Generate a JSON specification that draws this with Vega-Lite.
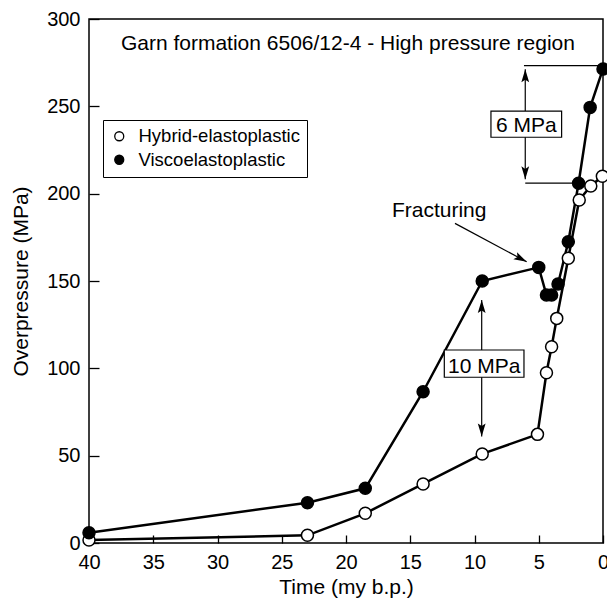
{
  "$schema": "https://vega.github.io/schema/vega-lite/v6.json",
  "width": 514,
  "height": 524,
  "autosize": {"type": "none"},
  "padding": {"left": 89, "top": 19, "right": 4, "bottom": 58},
  "config": {
    "font": "Liberation Sans",
    "view": {"stroke": "black", "strokeWidth": 1.5},
    "axis": {"domain": false, "grid": false, "tickColor": "black", "tickWidth": 1.3, "labelColor": "black", "titleColor": "black", "titleFontWeight": "normal", "labelFontSize": 20, "titleFontSize": 21, "labelFlush": false}
  },
  "datasets": {
    "series": [
      {"t": 40, "p": 1.7, "model": "Hybrid-elastoplastic"},
      {"t": 23, "p": 4.4, "model": "Hybrid-elastoplastic"},
      {"t": 18.5, "p": 17, "model": "Hybrid-elastoplastic"},
      {"t": 14, "p": 33.8, "model": "Hybrid-elastoplastic"},
      {"t": 9.4, "p": 51, "model": "Hybrid-elastoplastic"},
      {"t": 5.1, "p": 62.2, "model": "Hybrid-elastoplastic"},
      {"t": 4.4, "p": 97.5, "model": "Hybrid-elastoplastic"},
      {"t": 4, "p": 112.4, "model": "Hybrid-elastoplastic"},
      {"t": 3.6, "p": 128.6, "model": "Hybrid-elastoplastic"},
      {"t": 2.7, "p": 163, "model": "Hybrid-elastoplastic"},
      {"t": 1.85, "p": 196.4, "model": "Hybrid-elastoplastic"},
      {"t": 0.95, "p": 204.4, "model": "Hybrid-elastoplastic"},
      {"t": 0.05, "p": 210, "model": "Hybrid-elastoplastic"},
      {"t": 40, "p": 5.9, "model": "Viscoelastoplastic"},
      {"t": 23, "p": 23.1, "model": "Viscoelastoplastic"},
      {"t": 18.5, "p": 31.3, "model": "Viscoelastoplastic"},
      {"t": 14, "p": 86.6, "model": "Viscoelastoplastic"},
      {"t": 9.4, "p": 150, "model": "Viscoelastoplastic"},
      {"t": 5, "p": 157.8, "model": "Viscoelastoplastic"},
      {"t": 4.4, "p": 142, "model": "Viscoelastoplastic"},
      {"t": 4, "p": 142, "model": "Viscoelastoplastic"},
      {"t": 3.5, "p": 148.3, "model": "Viscoelastoplastic"},
      {"t": 2.7, "p": 172.5, "model": "Viscoelastoplastic"},
      {"t": 1.9, "p": 206, "model": "Viscoelastoplastic"},
      {"t": 1, "p": 249.4, "model": "Viscoelastoplastic"},
      {"t": 0, "p": 271.4, "model": "Viscoelastoplastic"}
    ],
    "hlines": [
      {"t": 6.15, "t2": 0, "p": 273.3},
      {"t": 6.05, "t2": 1.92, "p": 206}
    ],
    "vshafts": [
      {"t": 6.05, "p": 208.2, "p2": 271.2},
      {"t": 9.44, "p": 61, "p2": 139.1}
    ],
    "fracline": [
      {"t": 11.52, "p": 183, "t2": 5.94, "p2": 161}
    ],
    "boxes": [
      {"t": 8.72, "t2": 3.22, "p": 247.3, "p2": 232.3},
      {"t": 12.35, "t2": 6.15, "p": 110.5, "p2": 94.9}
    ],
    "boxlabels": [
      {"t": 5.97, "p": 235.4, "label": "6 MPa"},
      {"t": 9.25, "p": 97.5, "label": "10 MPa"}
    ],
    "fractext": [
      {"t": 12.75, "p": 186.9, "label": "Fracturing"}
    ],
    "title": [
      {"t": 19.85, "p": 282.2, "label": "Garn formation 6506/12-4 - High pressure region"}
    ],
    "uptips": [
      {"t": 6.05, "p": 271.2},
      {"t": 9.44, "p": 139.1}
    ],
    "downtips": [
      {"t": 6.05, "p": 208.2},
      {"t": 9.44, "p": 61}
    ],
    "fractip": [
      {"t": 5.94, "p": 161}
    ]
  },
  "layer": [
    {
      "data": {"name": "series"},
      "mark": {"type": "line", "color": "black", "strokeWidth": 2.5},
      "encoding": {
        "x": {"field": "t", "type": "quantitative", "scale": {"domain": [0, 40], "reverse": true, "nice": false}, "axis": {"title": "Time (my b.p.)", "values": [0, 5, 10, 15, 20, 25, 30, 35, 40], "tickSize": -8, "labelPadding": 17, "titleY": 50, "titleBaseline": "alphabetic"}},
        "y": {"field": "p", "type": "quantitative", "scale": {"domain": [0, 300], "nice": false}, "axis": {"title": "Overpressure (MPa)", "values": [0, 50, 100, 150, 200, 250, 300], "tickSize": -10, "labelPadding": 19, "titleX": -62, "titleY": 262, "titleAngle": 270, "titleBaseline": "alphabetic", "titleAlign": "center"}},
        "detail": {"field": "model"}
      }
    },
    {
      "data": {"name": "series"},
      "mark": {"type": "point", "filled": false, "stroke": "black", "strokeWidth": 1.5, "size": 144, "opacity": 1, "shape": "circle"},
      "encoding": {
        "x": {"field": "t", "type": "quantitative"},
        "y": {"field": "p", "type": "quantitative"},
        "fill": {"field": "model", "type": "nominal", "scale": {"domain": ["Hybrid-elastoplastic", "Viscoelastoplastic"], "range": ["white", "black"]},
          "legend": {"title": null, "orient": "none", "legendX": 14, "legendY": 101, "strokeColor": "black", "fillColor": "white", "padding": 7, "symbolType": "circle", "symbolSize": 81, "symbolStrokeColor": "black", "symbolStrokeWidth": 1.3, "labelFontSize": 18.5, "labelColor": "black", "labelLimit": 400, "rowPadding": 4.5, "labelOffset": 10}}
      }
    },
    {
      "data": {"name": "hlines"},
      "mark": {"type": "rule", "color": "black", "strokeWidth": 1.2},
      "encoding": {
        "x": {"field": "t", "type": "quantitative"},
        "x2": {"field": "t2"},
        "y": {"field": "p", "type": "quantitative"}
      }
    },
    {
      "data": {"name": "vshafts"},
      "mark": {"type": "rule", "color": "black", "strokeWidth": 1.2},
      "encoding": {
        "x": {"field": "t", "type": "quantitative"},
        "y": {"field": "p", "type": "quantitative"},
        "y2": {"field": "p2"}
      }
    },
    {
      "data": {"name": "fracline"},
      "mark": {"type": "rule", "color": "black", "strokeWidth": 1.2},
      "encoding": {
        "x": {"field": "t", "type": "quantitative"},
        "y": {"field": "p", "type": "quantitative"},
        "x2": {"field": "t2"},
        "y2": {"field": "p2"}
      }
    },
    {
      "data": {"name": "boxes"},
      "mark": {"type": "rect", "fill": "white", "stroke": "black", "strokeWidth": 1.2},
      "encoding": {
        "x": {"field": "t", "type": "quantitative"},
        "x2": {"field": "t2"},
        "y": {"field": "p", "type": "quantitative"},
        "y2": {"field": "p2"}
      }
    },
    {
      "data": {"name": "boxlabels"},
      "mark": {"type": "text", "fontSize": 21, "color": "black", "align": "center", "baseline": "alphabetic"},
      "encoding": {
        "x": {"field": "t", "type": "quantitative"},
        "y": {"field": "p", "type": "quantitative"},
        "text": {"field": "label"}
      }
    },
    {
      "data": {"name": "fractext"},
      "mark": {"type": "text", "fontSize": 21, "color": "black", "align": "center", "baseline": "alphabetic"},
      "encoding": {
        "x": {"field": "t", "type": "quantitative"},
        "y": {"field": "p", "type": "quantitative"},
        "text": {"field": "label"}
      }
    },
    {
      "data": {"name": "title"},
      "mark": {"type": "text", "fontSize": 21, "color": "black", "align": "center", "baseline": "alphabetic"},
      "encoding": {
        "x": {"field": "t", "type": "quantitative"},
        "y": {"field": "p", "type": "quantitative"},
        "text": {"field": "label"}
      }
    },
    {
      "data": {"name": "uptips"},
      "mark": {"type": "point", "filled": true, "color": "black", "opacity": 1, "size": 169, "shape": "M0,0L0.6,2L0,1.6L-0.6,2Z", "angle": 0},
      "encoding": {
        "x": {"field": "t", "type": "quantitative"},
        "y": {"field": "p", "type": "quantitative"}
      }
    },
    {
      "data": {"name": "downtips"},
      "mark": {"type": "point", "filled": true, "color": "black", "opacity": 1, "size": 169, "shape": "M0,0L0.6,2L0,1.6L-0.6,2Z", "angle": 180},
      "encoding": {
        "x": {"field": "t", "type": "quantitative"},
        "y": {"field": "p", "type": "quantitative"}
      }
    },
    {
      "data": {"name": "fractip"},
      "mark": {"type": "point", "filled": true, "color": "black", "opacity": 1, "size": 169, "shape": "M0,0L0.6,2L0,1.6L-0.6,2Z", "angle": 118},
      "encoding": {
        "x": {"field": "t", "type": "quantitative"},
        "y": {"field": "p", "type": "quantitative"}
      }
    }
  ]
}
